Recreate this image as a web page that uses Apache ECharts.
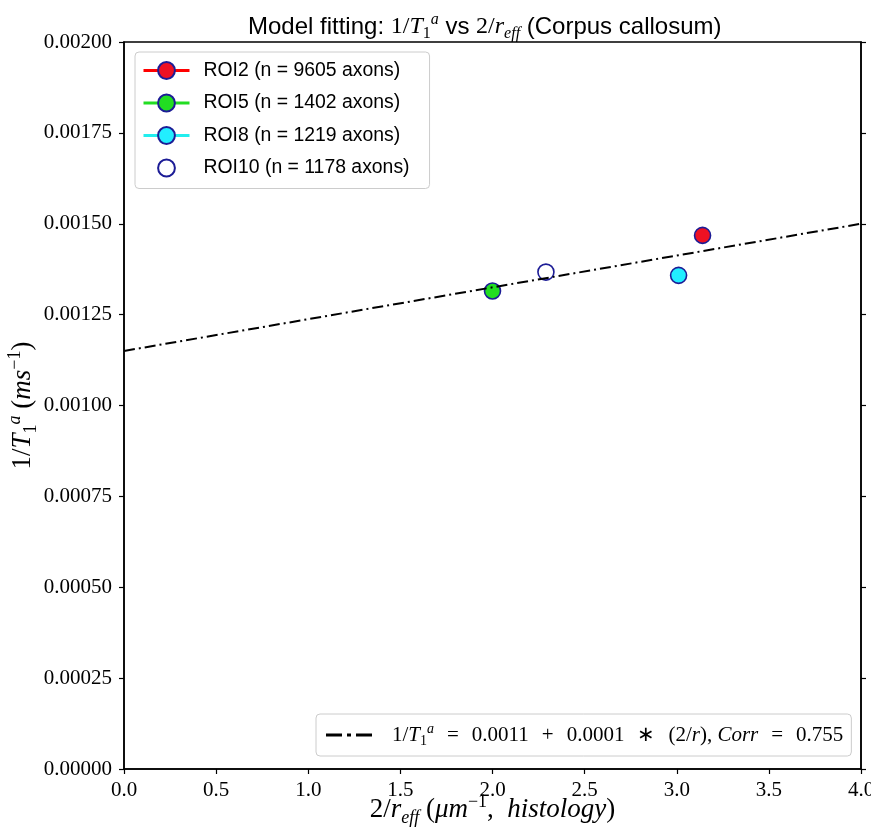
<!DOCTYPE html>
<html>
<head>
<meta charset="utf-8">
<script src="https://cdn.jsdelivr.net/npm/echarts@6/dist/echarts.min.js"></script>
<style>
html,body{margin:0;padding:0;background:#fff;}
#chart{width:871px;height:830px;}
</style>
</head>
<body>
<div id="chart"></div>
<script>
// ---- data ----
const roiNames = ['ROI2 (n = 9605 axons)', 'ROI5 (n = 1402 axons)', 'ROI8 (n = 1219 axons)', 'ROI10 (n = 1178 axons)'];
const roiX = [3.14, 2.0, 3.01, 2.29];
const roiY = [0.001468, 0.001315, 0.001358, 0.001367];
const roiFill = ['#ee1122', '#22dd22', '#22eeff', '#ffffff'];
const roiLine = ['#ff0000', '#22dd22', '#22eeee', null];
const fitX = [0, 4];
const fitY = [0.00115, 0.0015];
const fitName = 'fit';
const xMin = 0, xMax = 4, xStep = 0.5;
const yMin = 0, yMax = 0.002, yStep = 0.00025;

const serif = 'Liberation Serif';
const sans = 'Liberation Sans';
function mk(size, lh, opts) {
  return Object.assign({fontFamily: serif, fontSize: size, fontWeight: 'normal', color: '#000', lineHeight: lh}, opts || {});
}
// title math
const richT = {
  sans: mk(24, 30, {fontFamily: sans}),
  rm: mk(24, 30),
  it: mk(24, 30, {fontStyle: 'italic'}),
  sub: mk(16, 16, {verticalAlign: 'bottom'}),
  subi: mk(16, 16, {fontStyle: 'italic', verticalAlign: 'bottom'}),
  sup: mk(16, 16, {fontStyle: 'italic', verticalAlign: 'top'})
};
// legend math
const richS = {
  rm: mk(21, 26),
  it: mk(21, 26, {fontStyle: 'italic'}),
  sub: mk(14, 14, {verticalAlign: 'bottom'}),
  sup: mk(14, 14, {fontStyle: 'italic', verticalAlign: 'top'}),
  sp: mk(21, 26, {width: 13})
};
// axis-name math
const richL = {
  rm: mk(27, 34),
  it: mk(27, 34, {fontStyle: 'italic'}),
  sub: mk(18, 18, {verticalAlign: 'bottom'}),
  subi: mk(18, 18, {fontStyle: 'italic', verticalAlign: 'bottom'}),
  sup: mk(18, 18, {fontStyle: 'italic', verticalAlign: 'top'}),
  supr: mk(18, 18, {verticalAlign: 'top'})
};

const series = roiNames.map((name, i) => ({
  name: name,
  type: 'line',
  data: [[roiX[i], roiY[i]]],
  symbol: 'circle',
  symbolSize: 16,
  showSymbol: true,
  z: 3,
  itemStyle: {color: roiFill[i], borderColor: '#1c1c96', borderWidth: 1.6},
  lineStyle: roiLine[i] ? {color: roiLine[i], width: 3} : {color: '#ffffff', width: 3, opacity: 0}
}));
series.push({
  name: fitName,
  type: 'line',
  data: fitX.map((x, i) => [x, fitY[i]]),
  symbol: 'none',
  z: 4,
  itemStyle: {color: '#000'},
  lineStyle: {color: '#000', width: 2, type: [11, 4, 2, 4]}
});

const chart = echarts.init(document.getElementById('chart'), null, {renderer: 'canvas'});
chart.setOption({
  backgroundColor: '#fff',
  animation: false,
  title: {
    text: '{sans|Model fitting: }{rm|1/}{it|T}{sub|1}{sup|a}{sans| vs }{rm|2/}{it|r}{subi|eff}{sans| (Corpus callosum)}',
    left: 243,
    top: 7,
    textStyle: {fontWeight: 'normal', rich: richT}
  },
  grid: {left: 124, right: 10, top: 42, bottom: 61, containLabel: false, outerBoundsMode: 'none',
         show: true, borderColor: '#000', borderWidth: 1.5, backgroundColor: 'transparent'},
  xAxis: {
    type: 'value', min: xMin, max: xMax, interval: xStep,
    name: '{rm|2/}{it|r}{subi|eff}{rm| (}{it|μm}{supr|−1}{rm|,  }{it|histology}{rm|)}',
    nameLocation: 'middle', nameGap: 24, nameMoveOverlap: false,
    nameTextStyle: {rich: richL},
    axisLine: {show: true, onZero: false, lineStyle: {color: '#000', width: 1.5}},
    axisTick: {show: true, inside: false, length: 5, lineStyle: {color: '#000', width: 1.2}},
    axisLabel: {fontFamily: serif, fontSize: 21, color: '#000', margin: 11, formatter: v => v.toFixed(1)},
    splitLine: {show: false}
  },
  yAxis: [{
    type: 'value', min: yMin, max: yMax, interval: yStep,
    name: '{rm|1/}{it|T}{sub|1}{sup|a}{rm| (}{it|ms}{supr|−1}{rm|)}',
    nameLocation: 'middle', nameGap: 84, nameRotate: 90, nameMoveOverlap: false,
    nameTextStyle: {rich: richL},
    axisLine: {show: true, onZero: false, lineStyle: {color: '#000', width: 1.5}},
    axisTick: {show: true, inside: false, length: 5, lineStyle: {color: '#000', width: 1.2}},
    axisLabel: {fontFamily: serif, fontSize: 21, color: '#000', margin: 12, formatter: v => v.toFixed(5)},
    splitLine: {show: false}
  }, {
    type: 'value', min: yMin, max: yMax, interval: yStep, position: 'right',
    axisLine: {show: true, onZero: false, lineStyle: {color: '#000', width: 1.5}},
    axisTick: {show: true, inside: false, length: 5, lineStyle: {color: '#000', width: 1.2}},
    axisLabel: {show: false},
    splitLine: {show: false}
  }],
  legend: [{
    data: roiNames,
    orient: 'vertical',
    left: 135, top: 52,
    padding: [9, 20, 11, 7],
    itemWidth: 46, itemHeight: 21, itemGap: 13.5,
    lineStyle: {width: 3},
    backgroundColor: 'rgba(255,255,255,0.85)',
    borderColor: '#cccccc', borderWidth: 1, borderRadius: 4,
    selectedMode: false,
    textStyle: {fontFamily: sans, fontSize: 19.4, color: '#000', padding: [0, 0, 0, 9]},
    z: 10
  }, {
    data: [{name: fitName, icon: 'path://M0,0H16V3H0Z M21,0H25V3H21Z M30,0H46V3H30Z'}],
    orient: 'horizontal',
    left: 316, top: 714,
    padding: [8, 8, 8, 10],
    itemWidth: 46, itemHeight: 3,
    backgroundColor: 'rgba(255,255,255,0.85)',
    borderColor: '#cccccc', borderWidth: 1, borderRadius: 4,
    selectedMode: false,
    formatter: () => '{rm|1/}{it|T}{sub|1}{sup|a}{sp| }{rm|=}{sp| }{rm|0.0011}{sp| }{rm|+}{sp| }{rm|0.0001}{sp| }{rm|∗}{sp| }{rm|(2/}{it|r}{rm|), }{it|Corr}{sp| }{rm|=}{sp| }{rm|0.755}',
    textStyle: {rich: richS, padding: [0, 0, 0, 15]},
    z: 10
  }],
  series: series
});
</script>
</body>
</html>
